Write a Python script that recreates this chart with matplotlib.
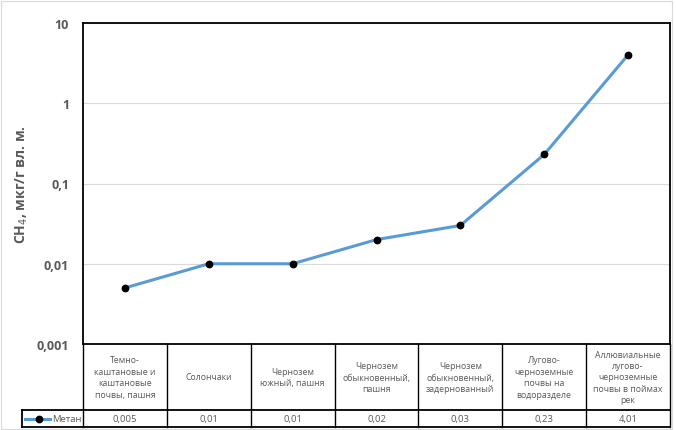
import matplotlib.pyplot as plt
from matplotlib.lines import Line2D
from matplotlib.patches import Rectangle

categories = [
    "Темно-\nкаштановые и\nкаштановые\nпочвы, пашня",
    "Солончаки",
    "Чернозем\nюжный, пашня",
    "Чернозем\nобыкновенный,\nпашня",
    "Чернозем\nобыкновенный,\nзадернованный",
    "Лугово-\nчерноземные\nпочвы на\nводоразделе",
    "Аллювиальные\nлугово-\nчерноземные\nпочвы в поймах\nрек",
]
methane = [0.005, 0.01, 0.01, 0.02, 0.03, 0.23, 4.01]
value_labels = ["0,005", "0,01", "0,01", "0,02", "0,03", "0,23", "4,01"]
yticks = [0.001, 0.01, 0.1, 1, 10]
ytick_labels = ["0,001", "0,01", "0,1", "1", "10"]

gray = "#595959"
blue = "#5b9bd5"
plt.rcParams["font.family"] = ["Open Sans", "DejaVu Sans"]

fig = plt.figure(figsize=(6.76, 4.31), dpi=100)
ax = fig.add_axes([83 / 676, 1 - 345 / 431, 587 / 676, 321 / 431])

x = list(range(len(methane)))
ax.plot(x, methane, color=blue, lw=2.2, marker="o", ms=4.6,
        mfc="black", mec="black", zorder=3)

ax.set_yscale("log")
ax.set_ylim(0.001, 10)
ax.set_xlim(-0.5, len(methane) - 0.5)
ax.set_yticks(yticks)
ax.set_yticklabels(ytick_labels, fontsize=9, fontweight="bold", color=gray)
ax.minorticks_off()
ax.tick_params(axis="y", length=0, pad=10)
ax.set_xticks([])
ax.grid(axis="y", color="#d9d9d9", lw=0.8)
ax.set_axisbelow(True)
for s in ax.spines.values():
    s.set_color("black")
    s.set_linewidth(1.3)
ax.set_ylabel("CH$_4$, мкг/г вл. м.", fontsize=10, fontweight="bold",
              color=gray)
ax.yaxis.set_label_coords(-(83 - 30) / 587, 0.5)

# data table under the plot
tr = ax.get_xaxis_transform()
h1 = -(411 - 345) / 321
h2 = -(428 - 345) / 321
leg_left = -0.5 - (83 - 22) / (587 / 7)
n = len(methane)

for i in range(n + 1):
    ax.add_line(Line2D([i - 0.5, i - 0.5], [0, h2], transform=tr,
                       color="black", lw=1.0, clip_on=False))
for yy in (h1, h2):
    ax.add_line(Line2D([leg_left, n - 0.5], [yy, yy], transform=tr,
                       color="black", lw=1.3, clip_on=False))
ax.add_line(Line2D([leg_left, leg_left], [h1, h2], transform=tr,
                   color="black", lw=1.3, clip_on=False))

for i, (cat, lab) in enumerate(zip(categories, value_labels)):
    ax.text(i, h1 / 2, cat, transform=tr, ha="center", va="center",
            fontsize=6.3, color=gray, linespacing=1.35)
    ax.text(i, (h1 + h2) / 2, lab, transform=tr, ha="center", va="center",
            fontsize=6.8, color=gray)

# legend key inside the table
ym = (h1 + h2) / 2
ax.add_line(Line2D([leg_left + 0.03, leg_left + 0.33], [ym, ym], transform=tr,
                   color=blue, lw=2.2, clip_on=False))
ax.add_line(Line2D([leg_left + 0.2], [ym], transform=tr, marker="o", ms=4.6,
                   mfc="black", mec="black", clip_on=False))
ax.text(leg_left + 0.36, ym, "Метан", transform=tr, ha="left", va="center",
        fontsize=6.8, color=gray)

fig.add_artist(Rectangle((1 / 676, 1 / 431), 671 / 676, 428 / 431,
                         transform=fig.transFigure, fill=False,
                         ec="#d9d9d9", lw=0.8))

fig.savefig("out.png", dpi=100)
